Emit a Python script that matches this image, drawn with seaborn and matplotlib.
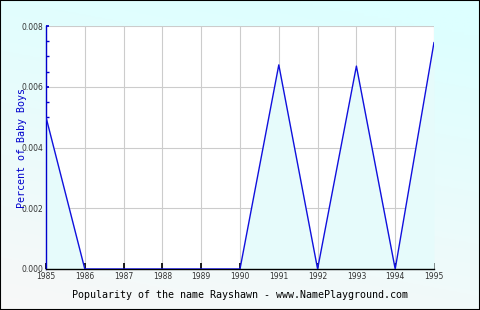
import numpy as np
import pandas as pd
import matplotlib
matplotlib.use("Agg")
import matplotlib.pyplot as plt
import seaborn as sns
from matplotlib.patches import Rectangle
from matplotlib.ticker import MultipleLocator

years = [1985, 1986, 1987, 1988, 1989, 1990, 1991, 1992, 1993, 1994, 1995]
percent = [0.0050, 0.0, 0.0, 0.0, 0.0, 0.0, 0.00672, 0.0, 0.00668, 0.0, 0.00746]
y_ticks = [0.000, 0.002, 0.004, 0.006, 0.008]
y_tick_labels = ["0.000", "0.002", "0.004", "0.006", "0.008"]
title_text = "Popularity of the name Rayshawn - www.NamePlayground.com"
ylabel_text = "Percent of Baby Boys"

df = pd.DataFrame({"year": years, "percent": percent})

sns.set_theme(style="white")
fig = plt.figure(figsize=(4.8, 3.1), dpi=100)

# background gradient (white bottom-left -> cyan top)
bg = fig.add_axes([0, 0, 1, 1], zorder=-10)
gx, gy = np.meshgrid(np.linspace(0, 1, 200), np.linspace(0, 1, 130))
t = np.clip(gy * 0.85 + gx * 0.25, 0, 1)
c0 = np.array([0xf8, 0xf8, 0xf8]) / 255
c1 = np.array([0xdd, 0xff, 0xff]) / 255
img = c0[None, None, :] * (1 - t[..., None]) + c1[None, None, :] * t[..., None]
bg.imshow(img, origin="lower", extent=[0, 1, 0, 1], aspect="auto")
bg.set_axis_off()

ax = fig.add_axes([46 / 480, 41 / 310, 388 / 480, 243 / 310])
ax.set_facecolor("white")
ax.fill_between(df["year"], df["percent"], 0, color="#e6fbfb", zorder=1, linewidth=0)
sns.lineplot(data=df, x="year", y="percent", ax=ax, color="#1010dd", linewidth=1.0, zorder=3)

ax.set_xlim(1985, 1995)
ax.set_ylim(0, 0.008)
ax.set_xticks(years)
ax.set_xticklabels([str(y) for y in years], fontsize=5.5, color="#333333")
ax.set_yticks(y_ticks)
ax.set_yticklabels(y_tick_labels, fontsize=5.5, color="#333333")
ax.yaxis.set_minor_locator(MultipleLocator(0.0005))
ax.grid(True, which="major", color="#cccccc", linewidth=0.8, zorder=0)
ax.set_axisbelow(True)
for s in ["top", "right"]:
    ax.spines[s].set_visible(False)
ax.spines["left"].set_color("#0000cc")
ax.spines["left"].set_linewidth(1.0)
ax.spines["bottom"].set_color("black")
ax.spines["bottom"].set_linewidth(1.0)
ax.tick_params(axis="x", direction="in", length=4, color="black", pad=2, bottom=True)
ax.tick_params(axis="y", which="major", direction="in", length=2.5, color="#0000cc", pad=2, left=True)
ax.tick_params(axis="y", which="minor", direction="in", length=2, color="#0000cc", left=True)
ax.set_xlabel("")
ax.set_ylabel("")

fig.text(0.5, (310 - 295) / 310, title_text, ha="center", va="center",
         fontsize=7.2, family="DejaVu Sans Mono", color="black")
fig.text(22 / 480, (310 - 148) / 310, ylabel_text, ha="center", va="center",
         rotation=90, fontsize=7.2, family="DejaVu Sans Mono", color="#0000cc")

fig.patches.append(Rectangle((0, 0), 1, 1, transform=fig.transFigure, fill=False,
                             edgecolor="black", linewidth=1.5, zorder=100))

fig.savefig("out.png", dpi=100)
